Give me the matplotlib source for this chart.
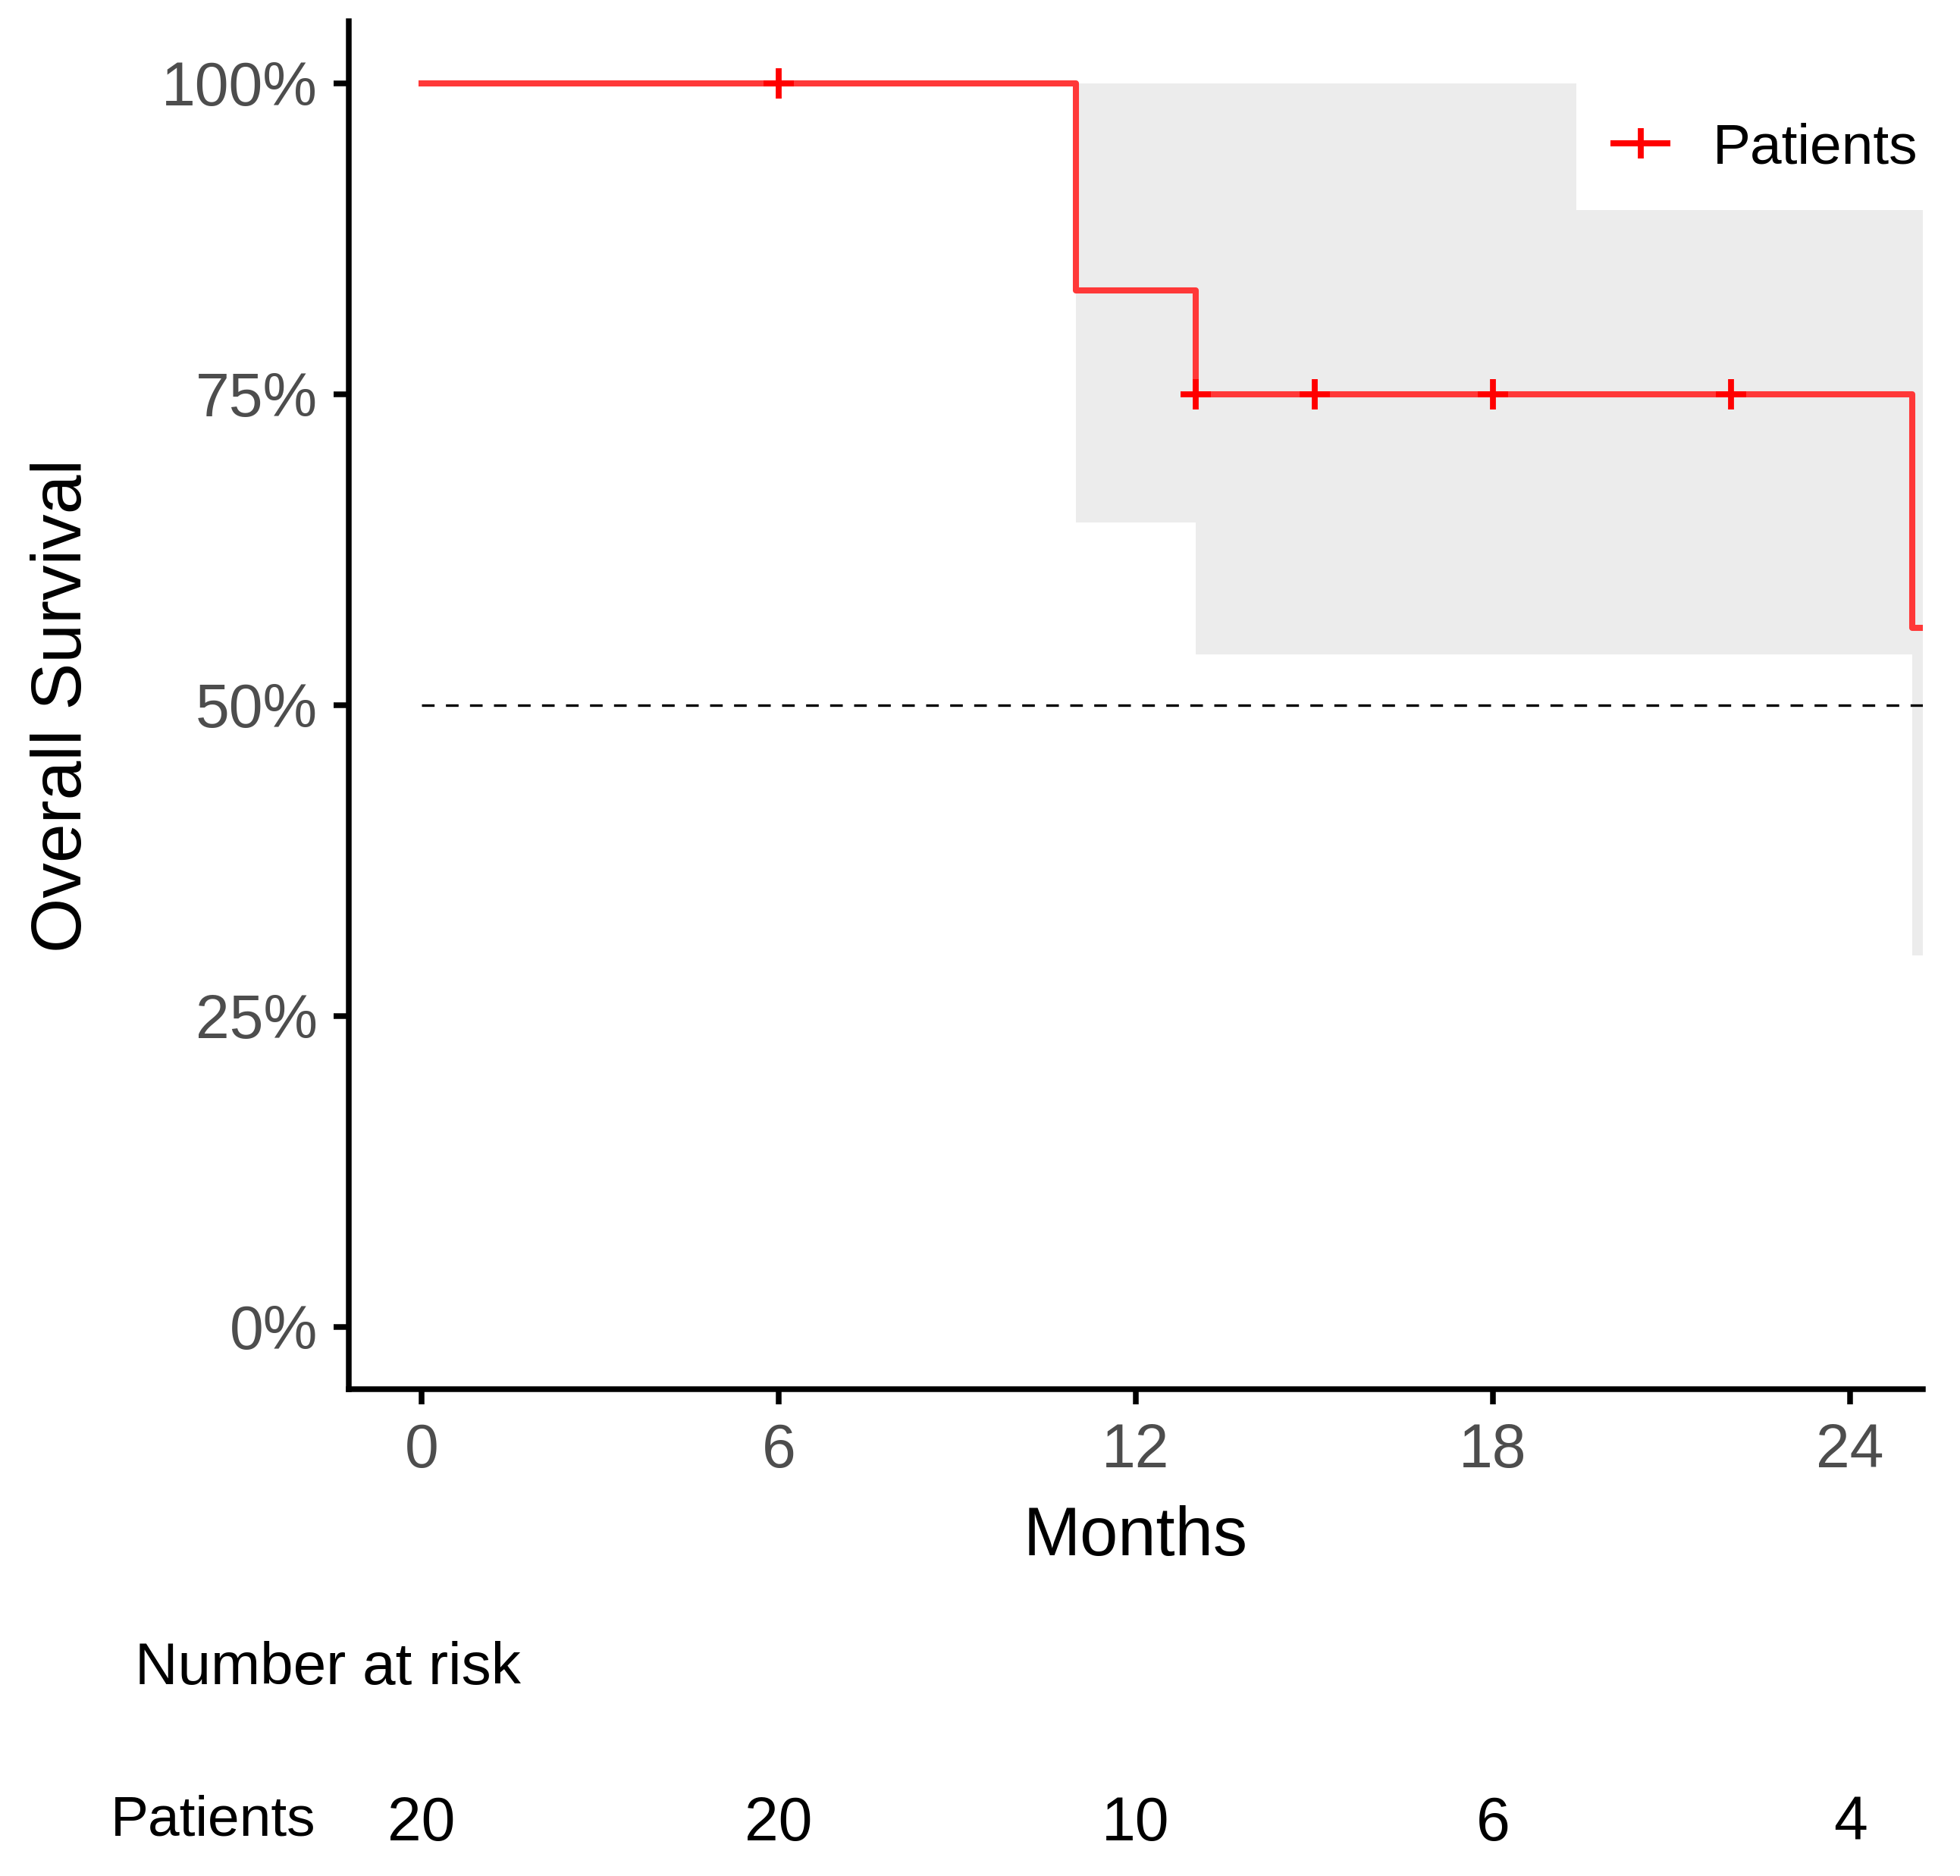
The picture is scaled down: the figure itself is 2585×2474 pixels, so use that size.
import numpy as np
import matplotlib
matplotlib.use("Agg")
import matplotlib.pyplot as plt
from matplotlib.lines import Line2D

plt.rcParams['font.family'] = ['Liberation Sans', 'DejaVu Sans']

# Kaplan-Meier curve (step, post)
km_time = [0, 11, 13, 25.04, 25.22]
km_surv = [1.0, 0.8333, 0.75, 0.5625, 0.5625]

# confidence band (step, post)
ci_time = [11, 13, 19.4, 25.04, 25.22]
ci_upper = [1.0, 1.0, 0.898, 0.898, 0.898]
ci_lower = [0.647, 0.541, 0.541, 0.299, 0.299]

# censored observations
censor_time = [6, 13, 15, 18, 22]

# risk table
risk_time = [0, 6, 12, 18, 24]
risk_count = [20, 20, 10, 6, 4]

x_ticks = [0, 6, 12, 18, 24]
y_ticks = [0, 0.25, 0.5, 0.75, 1.0]
y_ticklabels = ["0%", "25%", "50%", "75%", "100%"]

line_red = "#FF3838"
band_grey = "#ECECEC"

W, H, DPI = 2585, 2474, 200
fig = plt.figure(figsize=(W / DPI, H / DPI), dpi=DPI)

# main axes in pixel terms
left, right, top, bottom = 460, 2536, 28, 1832
ax = fig.add_axes([left / W, 1 - bottom / H, (right - left) / W, (bottom - top) / H])

ax.fill_between(ci_time, ci_lower, ci_upper, step='post', color=band_grey, lw=0, zorder=1)
ax.plot([0, km_time[-1]], [0.5, 0.5], color="black", lw=1.2, dashes=(5, 4.5), zorder=2)
ax.step(km_time, km_surv, where='post', color=line_red, lw=2.9, zorder=3)

idx = np.searchsorted(km_time, censor_time, side='right') - 1
censor_surv = np.array(km_surv)[idx]
ax.plot(censor_time, censor_surv, ls='none', marker='+', ms=14.5, mew=2.8, color="red", zorder=4)

ax.set_xlim(-1.22, 25.22)
ax.set_ylim(-0.05, 1.05)
ax.set_xticks(x_ticks)
ax.set_yticks(y_ticks)
ax.set_yticklabels(y_ticklabels)
ax.tick_params(axis='both', labelsize=29, labelcolor="#4D4D4D", length=7.2, width=2.7)
ax.tick_params(axis='x', pad=8.5)
ax.tick_params(axis='y', pad=7.5)
for s in ['top', 'right']:
    ax.spines[s].set_visible(False)
for s in ['left', 'bottom']:
    ax.spines[s].set_linewidth(2.7)
    ax.spines[s].set_capstyle('projecting')

ax.set_xlabel("Months", fontsize=32.5)
ax.xaxis.set_label_coords(0.5, -0.085)
ax.set_ylabel("Overall Survival", fontsize=33.5)
ax.yaxis.set_label_coords(-0.161, 0.5)

handle = Line2D([], [], color="red", lw=2.9, marker='+', ms=14.5, mew=2.8)
ax.legend([handle], ["Patients"], loc='center right', bbox_to_anchor=(0.997, 0.907),
          frameon=False, fontsize=27, handlelength=0.95, handletextpad=0.8,
          borderaxespad=0, borderpad=0)

# risk table, sharing the x scale
rax = fig.add_axes([left / W, 0, (right - left) / W, 0.2], sharex=ax)
rax.set_ylim(0, 1)
rax.axis('off')
y_num = 1 - 2406 / H
for t, n in zip(risk_time, risk_count):
    rax.text(t, y_num / 0.2, str(n), ha='center', va='center', fontsize=29)
fig.text(178 / W, 1 - 2200 / H, "Number at risk", ha='left', va='center', fontsize=28.2)
fig.text(416 / W, 1 - 2401 / H, "Patients", ha='right', va='center', fontsize=27)

fig.savefig("out.png", dpi=DPI)
